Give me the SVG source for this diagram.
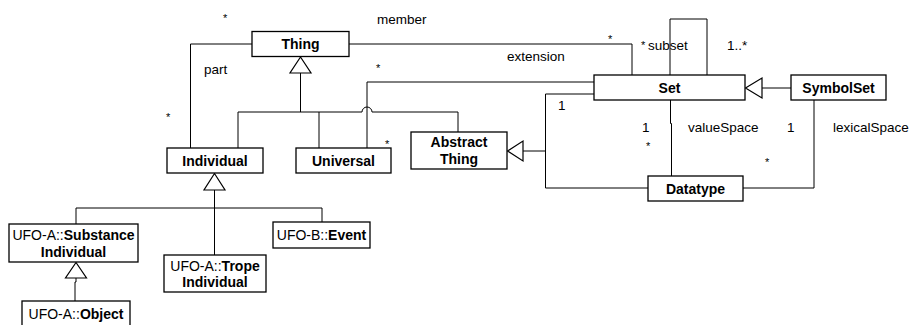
<svg xmlns="http://www.w3.org/2000/svg" width="915" height="325" viewBox="0 0 915 325">
  <style>
    .box { fill: #ffffff; stroke: #000000; stroke-width: 1.3; }
    .ln { fill: none; stroke: #000000; stroke-width: 1; }
    .tri { fill: #ffffff; stroke: #000000; stroke-width: 1.2; }
    .name { font-family: "Liberation Sans", Arial, sans-serif; font-size: 14px; font-weight: bold; text-anchor: middle; fill: #000000; }
    .name tspan.pre { font-weight: normal; }
    .lbl { font-family: "Liberation Sans", Arial, sans-serif; font-size: 13.5px; fill: #000000; }
    .star { font-family: "Liberation Sans", Arial, sans-serif; font-size: 11px; fill: #000000; }
  </style>
  <rect width="915" height="325" fill="#ffffff"/>

  <!-- connectors -->
  <g id="connectors">
    <!-- part: Thing - Individual -->
    <path class="ln" d="M252,44 H190.5 V148"/>
    <!-- member / extension: Thing - Set -->
    <path class="ln" d="M349,44 H632 V75"/>
    <!-- generalization into Thing -->
    <path class="ln" d="M300.5,73 V112"/>
    <path class="ln" d="M238,148 V112 H362 A5,5 0 0 1 372,112 H458 V132"/>
    <path class="ln" d="M319,112 V148"/>
    <polygon class="tri" points="300.5,57 290,73 311,73"/>
    <!-- extension: Set - Universal -->
    <path class="ln" d="M594,82 H367 V148"/>
    <!-- subset self association -->
    <path class="ln" d="M670,75 V19 H707 V75"/>
    <!-- SymbolSet specializes Set -->
    <path class="ln" d="M762,88 H791"/>
    <polygon class="tri" points="745.5,88 762,78 762,98"/>
    <!-- Set - Datatype (left route) -->
    <path class="ln" d="M594,94 H545.5 V188 H648"/>
    <!-- Datatype specializes Abstract Thing -->
    <path class="ln" d="M523,151 H545.5"/>
    <polygon class="tri" points="507.5,151 523,141 523,161"/>
    <!-- valueSpace -->
    <path class="ln" d="M670.5,100 V123.5 H671.5 V176"/>
    <!-- lexicalSpace -->
    <path class="ln" d="M814,100 V188 H743"/>
    <!-- generalization into Individual -->
    <polygon class="tri" points="214.5,173.5 204,190 225,190"/>
    <path class="ln" d="M214.5,190 V255"/>
    <path class="ln" d="M76,224 V208 H322 V222"/>
    <!-- Object specializes Substance Individual -->
    <polygon class="tri" points="76,262.5 65.5,278 86.5,278"/>
    <path class="ln" d="M76,278 V282 H75 V301"/>
  </g>

  <!-- association end labels -->
  <g id="labels">
    <text class="star" x="223" y="22">*</text>
    <text class="lbl" x="377" y="24">member</text>
    <text class="lbl" x="204" y="74">part</text>
    <text class="star" x="376" y="72">*</text>
    <text class="star" x="166" y="121">*</text>
    <text class="lbl" x="507" y="61">extension</text>
    <text class="star" x="608" y="43">*</text>
    <text class="star" x="641" y="49">*</text>
    <text class="lbl" x="648" y="50">subset</text>
    <text class="lbl" x="727" y="50">1..*</text>
    <text class="lbl" x="558" y="110">1</text>
    <text class="lbl" x="642" y="132">1</text>
    <text class="star" x="646" y="150">*</text>
    <text class="lbl" x="688" y="132">valueSpace</text>
    <text class="lbl" x="787" y="132">1</text>
    <text class="lbl" x="833" y="132">lexicalSpace</text>
    <text class="star" x="765" y="166">*</text>
    <text class="star" x="385" y="148">*</text>
  </g>

  <!-- classes -->
  <g id="Thing">
    <rect class="box" x="252" y="31.5" width="97" height="25"/>
    <text class="name" x="300.5" y="49">Thing</text>
  </g>
  <g id="Individual">
    <rect class="box" x="167" y="148" width="96" height="25"/>
    <text class="name" x="215" y="165.5">Individual</text>
  </g>
  <g id="Universal">
    <rect class="box" x="296" y="148" width="95" height="25"/>
    <text class="name" x="343.5" y="165.5">Universal</text>
  </g>
  <g id="AbstractThing">
    <rect class="box" x="411" y="132" width="96" height="37"/>
    <text class="name" x="459" y="147">Abstract</text>
    <text class="name" x="459" y="163.5">Thing</text>
  </g>
  <g id="Set">
    <rect class="box" x="594" y="75" width="151" height="25"/>
    <text class="name" x="669.5" y="92.5">Set</text>
  </g>
  <g id="SymbolSet">
    <rect class="box" x="791" y="75" width="95" height="25"/>
    <text class="name" x="838.5" y="92.5">SymbolSet</text>
  </g>
  <g id="Datatype">
    <rect class="box" x="648" y="176" width="95" height="25"/>
    <text class="name" x="695.5" y="193.5">Datatype</text>
  </g>
  <g id="SubstanceIndividual">
    <rect class="box" x="9" y="224" width="129" height="38"/>
    <text class="name" x="73.5" y="240"><tspan class="pre">UFO-A::</tspan>Substance</text>
    <text class="name" x="73.5" y="256.5">Individual</text>
  </g>
  <g id="TropeIndividual">
    <rect class="box" x="164" y="255" width="102" height="37"/>
    <text class="name" x="215" y="270.5"><tspan class="pre">UFO-A::</tspan>Trope</text>
    <text class="name" x="215" y="287">Individual</text>
  </g>
  <g id="Event">
    <rect class="box" x="273" y="222" width="97" height="26"/>
    <text class="name" x="321.5" y="240"><tspan class="pre">UFO-B::</tspan>Event</text>
  </g>
  <g id="Object">
    <rect class="box" x="22" y="301" width="108" height="26"/>
    <text class="name" x="76" y="318.5"><tspan class="pre">UFO-A::</tspan>Object</text>
  </g>
</svg>
